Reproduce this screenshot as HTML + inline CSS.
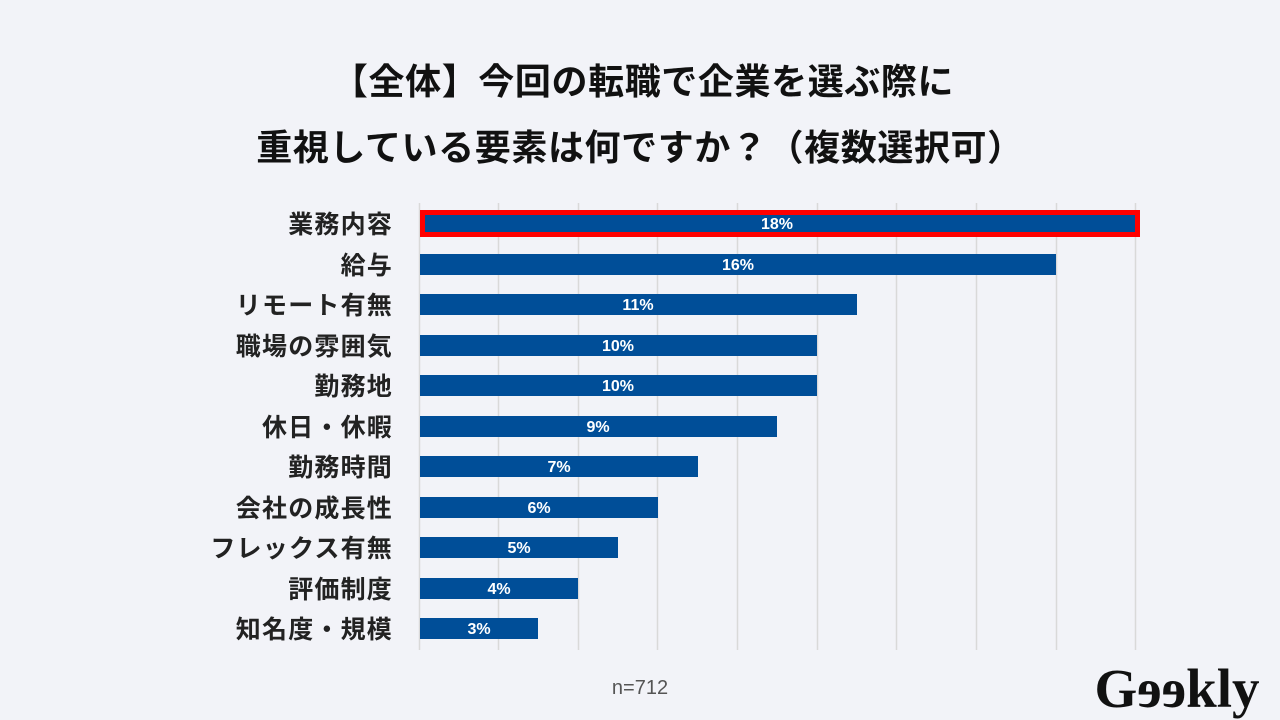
<!DOCTYPE html>
<html><head><meta charset="utf-8"><style>
body{margin:0;width:1280px;height:720px;background:#f2f3f8;overflow:hidden;font-family:"Liberation Sans","Noto Sans CJK JP",sans-serif;}
</style></head><body>
<svg width="1280" height="720" xmlns="http://www.w3.org/2000/svg" style="position:absolute;left:0;top:0">
<rect width="1280" height="720" fill="#f2f3f8"/>
<g font-family="'Liberation Sans','Noto Sans CJK JP',sans-serif" font-weight="bold" fill="#111" font-size="36" text-anchor="middle" letter-spacing="0.6">
<text x="643" y="94">【全体】今回の転職で企業を選ぶ際に</text>
<text x="640" y="160">重視している要素は何ですか？（複数選択可）</text>
</g>
<g stroke="#d9d9d9" stroke-width="1.5">
<line x1="419.5" y1="203" x2="419.5" y2="650"/><line x1="498.5" y1="203" x2="498.5" y2="650"/><line x1="578.5" y1="203" x2="578.5" y2="650"/><line x1="657.5" y1="203" x2="657.5" y2="650"/><line x1="737.5" y1="203" x2="737.5" y2="650"/><line x1="817.5" y1="203" x2="817.5" y2="650"/><line x1="896.5" y1="203" x2="896.5" y2="650"/><line x1="976.5" y1="203" x2="976.5" y2="650"/><line x1="1056.5" y1="203" x2="1056.5" y2="650"/><line x1="1135.5" y1="203" x2="1135.5" y2="650"/>
</g>
<g fill="#004e98">
<rect x="420" y="213" width="715" height="21"/>
<rect x="420" y="254" width="636" height="21"/>
<rect x="420" y="294" width="437" height="21"/>
<rect x="420" y="335" width="397" height="21"/>
<rect x="420" y="375" width="397" height="21"/>
<rect x="420" y="416" width="357" height="21"/>
<rect x="420" y="456" width="278" height="21"/>
<rect x="420" y="497" width="238" height="21"/>
<rect x="420" y="537" width="198" height="21"/>
<rect x="420" y="578" width="158" height="21"/>
<rect x="420" y="618" width="118" height="21"/>
</g>
<rect x="422.5" y="212.5" width="715" height="22" fill="none" stroke="#ff0000" stroke-width="5"/>
<g font-family="'Liberation Sans',sans-serif" font-weight="bold" fill="#fff" font-size="16" text-anchor="middle">
<text x="777" y="229">18%</text><text x="738" y="270">16%</text><text x="638" y="310">11%</text><text x="618" y="351">10%</text><text x="618" y="391">10%</text><text x="598" y="432">9%</text><text x="559" y="472">7%</text><text x="539" y="513">6%</text><text x="519" y="553">5%</text><text x="499" y="594">4%</text><text x="479" y="634">3%</text>
</g>
<g font-family="'Liberation Sans','Noto Sans CJK JP',sans-serif" font-weight="bold" fill="#222" font-size="25" text-anchor="end" letter-spacing="1.2">
<text x="393" y="233">業務内容</text><text x="393" y="274">給与</text><text x="393" y="314">リモート有無</text><text x="393" y="355">職場の雰囲気</text><text x="393" y="395">勤務地</text><text x="393" y="436">休日・休暇</text><text x="393" y="476">勤務時間</text><text x="393" y="517">会社の成長性</text><text x="393" y="557">フレックス有無</text><text x="393" y="598">評価制度</text><text x="393" y="638">知名度・規模</text>
</g>
<text x="640" y="694" text-anchor="middle" font-family="'Liberation Sans',sans-serif" font-size="20" fill="#555">n=712</text>
<text x="1177" y="707" text-anchor="middle" font-family="'Liberation Serif','DejaVu Serif',serif" font-weight="bold" font-size="55" fill="#111">Gɘɘkly</text>
</svg>
</body></html>
